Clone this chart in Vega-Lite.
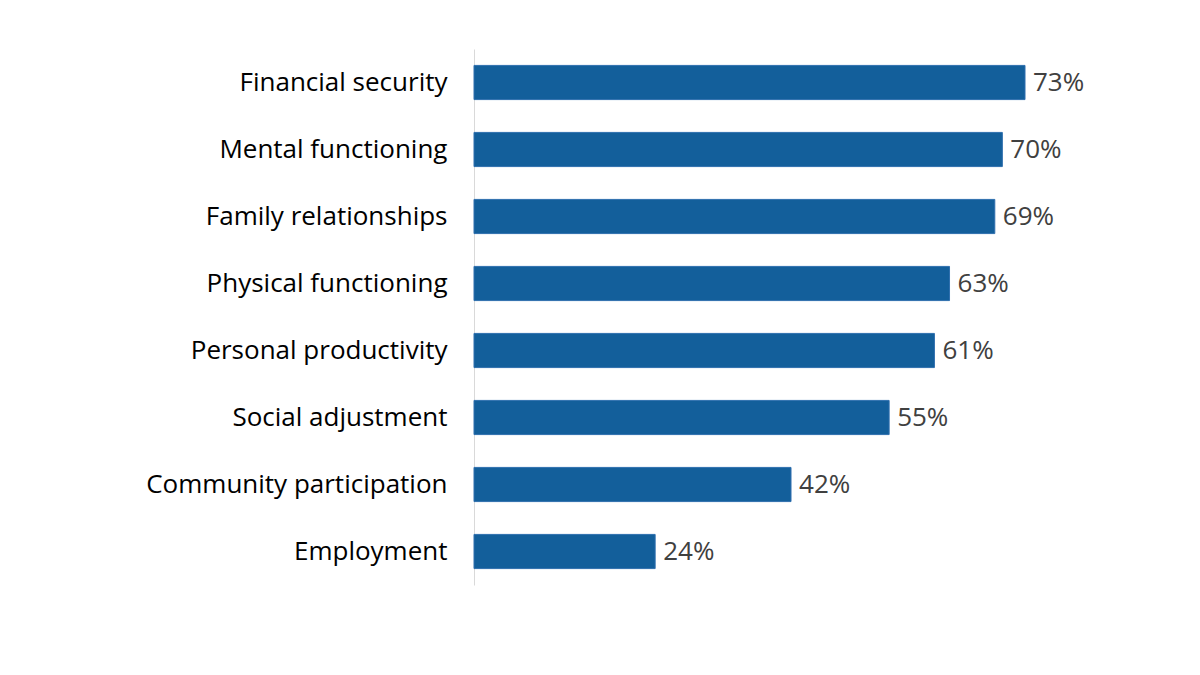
{
  "$schema": "https://vega.github.io/schema/vega-lite/v6.json",
  "autosize": {"type": "none"},
  "padding": {"left": 474, "top": 49, "right": 175, "bottom": 90},
  "width": 551,
  "height": 536,
  "background": "white",
  "config": {"view": {"stroke": null}, "font": "Open Sans"},
  "data": {
    "values": [
      {"item": "Financial security", "pct": 0.73},
      {"item": "Mental functioning", "pct": 0.70},
      {"item": "Family relationships", "pct": 0.69},
      {"item": "Physical functioning", "pct": 0.63},
      {"item": "Personal productivity", "pct": 0.61},
      {"item": "Social adjustment", "pct": 0.55},
      {"item": "Community participation", "pct": 0.42},
      {"item": "Employment", "pct": 0.24}
    ]
  },
  "encoding": {
    "y": {
      "field": "item",
      "type": "nominal",
      "sort": null,
      "scale": {"paddingInner": 0.49, "paddingOuter": 0.245},
      "axis": {
        "title": null,
        "ticks": false,
        "domain": true,
        "domainColor": "#d9d9d9",
        "domainWidth": 1,
        "labelFontSize": 26,
        "labelColor": "#000000",
        "labelPadding": 27,
        "labelLimit": 460,
        "labelFont": "Open Sans"
      }
    },
    "x": {
      "field": "pct",
      "type": "quantitative",
      "scale": {"domain": [0, 0.73], "nice": false},
      "axis": null
    }
  },
  "layer": [
    {
      "mark": {"type": "bar", "color": "#135f9b", "stroke": "#2f6fae", "strokeWidth": 1}
    },
    {
      "mark": {"type": "text", "align": "left", "dx": 8, "fontSize": 26, "color": "#404040", "font": "Open Sans", "clip": false},
      "encoding": {
        "text": {"field": "pct", "type": "quantitative", "format": ".0%"}
      }
    }
  ]
}
